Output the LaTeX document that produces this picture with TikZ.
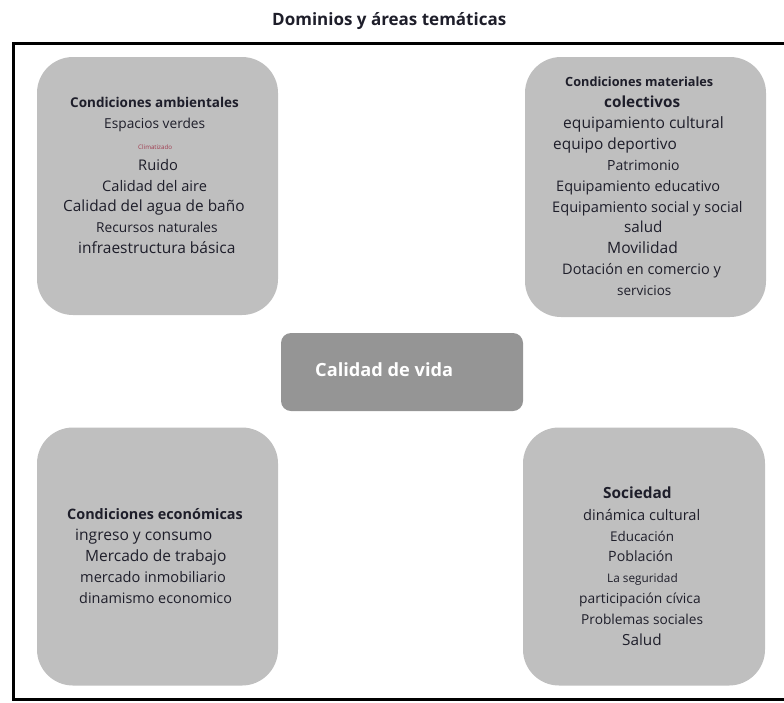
\documentclass[tikz,border=0pt]{standalone}
\usepackage{fontspec}
\setmainfont{Open Sans}
\definecolor{boxgray}{HTML}{BFBFBF}
\definecolor{midgray}{HTML}{959595}
\definecolor{txt}{HTML}{1E1E2A}
\definecolor{climred}{RGB}{160,60,80}
\tikzset{
  quad/.style={draw=none, fill=boxgray, rounded corners=36pt, minimum width=241pt, minimum height=258pt, inner sep=0pt},
  core/.style={draw=none, fill=midgray, rounded corners=10pt, minimum width=242pt, minimum height=78pt, inner sep=0pt},
  tl/.style={anchor=base west, inner sep=0pt, text=txt},
}
\newcommand{\fs}[1]{\fontsize{#1}{#1}\selectfont}
\begin{document}
\begin{tikzpicture}[x=1pt,y=-1pt]
\useasboundingbox (0,0) rectangle (784,702);
% title
\node[tl, font=\fs{17}\bfseries] (title) at (272,25) {Dominios y áreas temáticas};
% frame
\draw[line width=3pt] (784,43.5) -- (13,43.5) -- (13,699.5) -- (784,699.5);
% boxes
\node[quad] (amb) at (157.5,186) {};
\node[quad, minimum height=260pt] (mat) at (645.5,187) {};
\node[quad] (eco) at (157.5,556.5) {};
\node[quad, minimum width=242pt] (soc) at (644,556.5) {};
\node[core] (cv) at (402,372) {};
% center text
\node[tl, text=white, font=\fs{18.2}\bfseries] (cvt) at (315,376.5) {Calidad de vida};
% TL
\node[tl, font=\fs{13.5}\bfseries] (a1) at (70,107) {Condiciones ambientales};
\node[tl, font=\fs{13.7}] (a2) at (104,128.5) {Espacios verdes};
\node[tl, font=\fs{6.2}, text=climred] (a3) at (138,149) {Climatizado};
\node[tl, font=\fs{14.7}] (a4) at (138,170.5) {Ruido};
\node[tl, font=\fs{14.6}] (a5) at (102,191) {Calidad del aire};
\node[tl, font=\fs{15.4}] (a6) at (63,211.5) {Calidad del agua de baño};
\node[tl, font=\fs{13.7}] (a7) at (96,232.5) {Recursos naturales};
\node[tl, font=\fs{15.5}] (a8) at (78,253.3) {infraestructura básica};
% TR
\node[tl, font=\fs{12.7}\bfseries] (m1) at (565,86.5) {Condiciones materiales};
\node[tl, font=\fs{15.3}\bfseries] (m2) at (604,107) {colectivos};
\node[tl, font=\fs{15.6}] (m3) at (563,128) {equipamiento cultural};
\node[tl, font=\fs{15.4}] (m4) at (553,149) {equipo deportivo};
\node[tl, font=\fs{14}] (m5) at (607,170) {Patrimonio};
\node[tl, font=\fs{14.5}] (m6) at (556,191) {Equipamiento educativo};
\node[tl, font=\fs{14.6}] (m7) at (552,212) {Equipamiento social y social};
\node[tl, font=\fs{15.2}] (m8) at (624,232) {salud};
\node[tl, font=\fs{15.6}] (m9) at (607,253.5) {Movilidad};
\node[tl, font=\fs{14.5}] (m10) at (562,274) {Dotación en comercio y};
\node[tl, font=\fs{13.5}] (m11) at (617,295) {servicios};
% BL
\node[tl, font=\fs{14.4}\bfseries] (e1) at (67,519.5) {Condiciones económicas};
\node[tl, font=\fs{15.6}] (e2) at (75,540.5) {ingreso y consumo};
\node[tl, font=\fs{15.5}] (e3) at (85,561.5) {Mercado de trabajo};
\node[tl, font=\fs{14.6}] (e4) at (80,582) {mercado inmobiliario};
\node[tl, font=\fs{14.4}] (e5) at (79,603) {dinamismo economico};
% BR
\node[tl, font=\fs{15.4}\bfseries] (s1) at (603,498.5) {Sociedad};
\node[tl, font=\fs{14.6}] (s2) at (583,520) {dinámica cultural};
\node[tl, font=\fs{13.4}] (s3) at (610,541) {Educación};
\node[tl, font=\fs{14.2}] (s4) at (608,561.5) {Población};
\node[tl, font=\fs{11.8}] (s5) at (607,582) {La seguridad};
\node[tl, font=\fs{13.8}] (s6) at (579,603) {participación cívica};
\node[tl, font=\fs{13.7}] (s7) at (581,624) {Problemas sociales};
\node[tl, font=\fs{15.3}] (s8) at (622,645) {Salud};
\end{tikzpicture}
\end{document}
